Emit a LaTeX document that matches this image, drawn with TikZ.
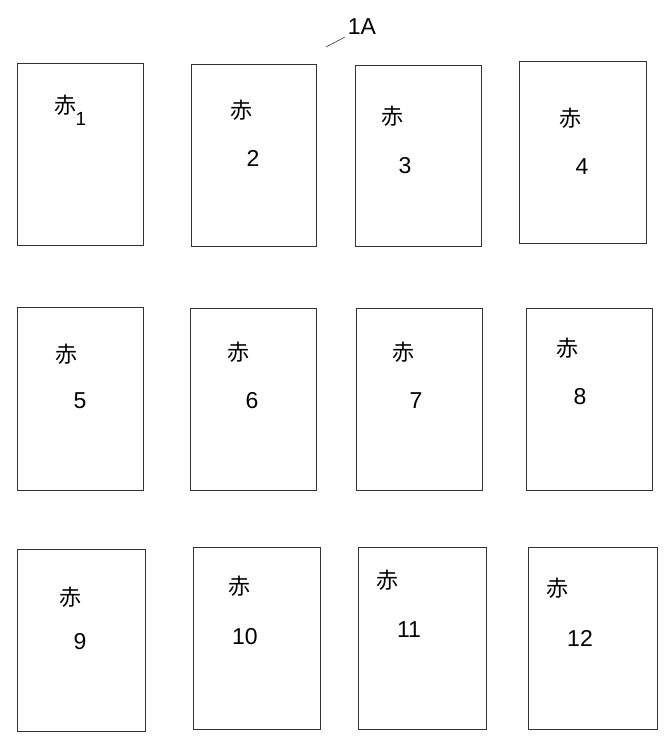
\documentclass[tikz,border=0pt]{standalone}
\usepackage{fontspec}
\setmainfont{Liberation Sans}
\newfontfamily\cjk{Noto Sans CJK JP}
\begin{document}
\begin{tikzpicture}[x=1pt,y=-1pt,
  card/.style={draw=black!80,line width=0.7pt},
  kanji/.style={font=\cjk\fontsize{22}{22}\selectfont,inner sep=0pt},
  num/.style={font=\fontsize{23}{23}\selectfont,inner sep=0pt},
  lead/.style={draw=black!80,line width=0.6pt}]
\useasboundingbox (0,0) rectangle (669,748);
% label
\node[num] (lbl) at (362,27) {1A};
\coordinate (la) at (326,47);
\draw[lead] (la) -- (345,37);
% row 1
\draw[card] (17,63) rectangle (143,245) node[pos=0.5,inner sep=0] (b1) {};
\draw[card] (191,64) rectangle (316,246) node[pos=0.5,inner sep=0] (b2) {};
\draw[card] (355,65) rectangle (481,246) node[pos=0.5,inner sep=0] (b3) {};
\draw[card] (519,61) rectangle (646,243) node[pos=0.5,inner sep=0] (b4) {};
\node[kanji] (k1) at (65,105) {赤};
\node[num,font=\fontsize{19}{19}\selectfont] (n1) at (81,119) {1};
\node[kanji] (k2) at (241,110) {赤};
\node[num] (n2) at (253,158) {2};
\node[kanji] (k3) at (392,116) {赤};
\node[num] (n3) at (405,166) {3};
\node[kanji] (k4) at (570,118) {赤};
\node[num] (n4) at (582,167) {4};
% row 2
\draw[card] (17,307) rectangle (143,490) node[pos=0.5,inner sep=0] (b5) {};
\draw[card] (190,308) rectangle (316,490) node[pos=0.5,inner sep=0] (b6) {};
\draw[card] (356,308) rectangle (482,490) node[pos=0.5,inner sep=0] (b7) {};
\draw[card] (526,308) rectangle (652,490) node[pos=0.5,inner sep=0] (b8) {};
\node[kanji] (k5) at (66,354) {赤};
\node[num] (n5) at (80,401) {5};
\node[kanji] (k6) at (238,352) {赤};
\node[num] (n6) at (252,401) {6};
\node[kanji] (k7) at (403,352) {赤};
\node[num] (n7) at (416,401) {7};
\node[kanji] (k8) at (567,348) {赤};
\node[num] (n8) at (580,397) {8};
% row 3
\draw[card] (17,549) rectangle (145,731) node[pos=0.5,inner sep=0] (b9) {};
\draw[card] (193,547) rectangle (320,729) node[pos=0.5,inner sep=0] (b10) {};
\draw[card] (358,547) rectangle (486,729) node[pos=0.5,inner sep=0] (b11) {};
\draw[card] (528,547) rectangle (657,729) node[pos=0.5,inner sep=0] (b12) {};
\node[kanji] (k9) at (70,597) {赤};
\node[num] (n9) at (80,642) {9};
\node[kanji] (k10) at (239,586) {赤};
\node[num] (n10) at (245,637) {10};
\node[kanji] (k11) at (387,580) {赤};
\node[num] (n11) at (409,630) {11};
\node[kanji] (k12) at (557,588) {赤};
\node[num] (n12) at (580,638) {12};
\end{tikzpicture}
\end{document}
